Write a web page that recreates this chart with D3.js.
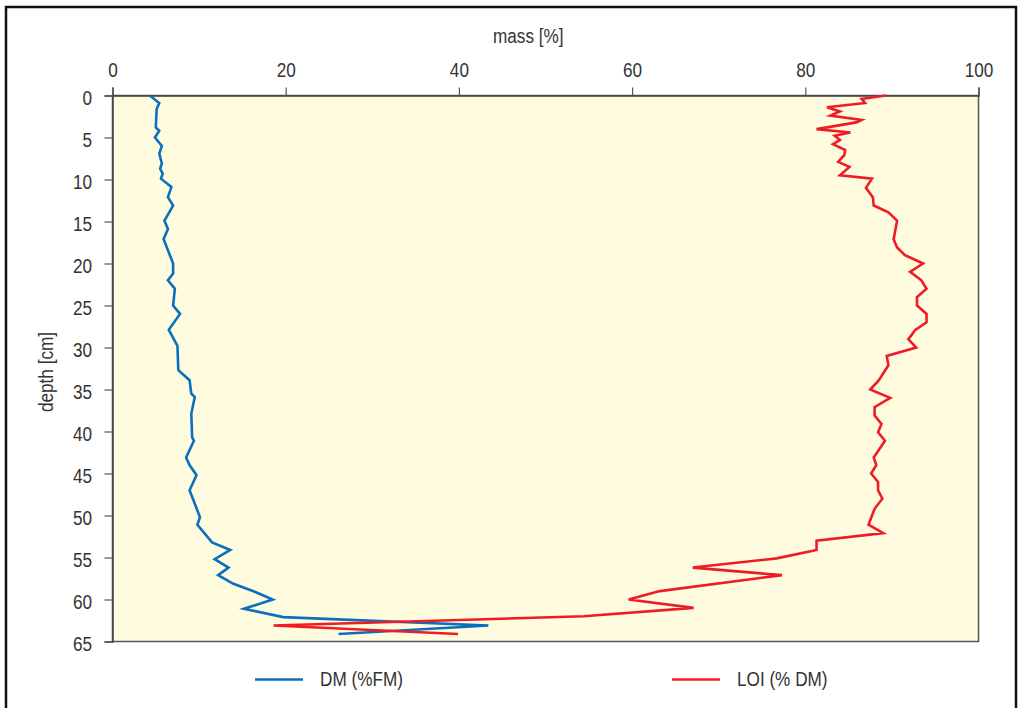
<!DOCTYPE html>
<html>
<head>
<meta charset="utf-8">
<script src="https://cdn.jsdelivr.net/npm/d3@7"></script>
<style>
  html, body { margin: 0; padding: 0; background: #fff; }
  svg { display: block; }
  text { font-family: "Liberation Sans", Arial, sans-serif; fill: #333; }
</style>
</head>
<body>
<svg id="chart" width="1019" height="708"></svg>
<script>
// Dry matter (% of fresh mass) by depth
const dmDepth = [0, 0.9, 1.6, 3.8, 4.2, 5.0, 6.0, 6.9, 8.1, 8.7, 9.3, 9.9, 10.9, 12.1, 13.1, 14.9, 15.9, 17.1,
  20.0, 21.2, 22.0, 23.0, 25.0, 26.0, 27.9, 29.8, 32.7, 33.9, 35.5, 35.9, 37.9, 40.7, 41.1, 43.1, 44.0, 45.2,
  47.0, 50.2, 51.1, 53.2, 54.1, 55.2, 56.2, 57.1, 58.1, 59.1, 60.0, 61.1, 62.1, 63.1, 64.1];
const dmValue = [4.3, 5.4, 5.1, 5.0, 5.4, 4.9, 5.7, 5.4, 5.7, 5.5, 5.8, 5.6, 6.8, 6.4, 7.0, 6.0, 6.4, 5.9,
  7.0, 7.0, 6.4, 7.2, 7.0, 7.8, 6.5, 7.5, 7.6, 8.9, 9.1, 9.5, 9.1, 9.2, 9.4, 8.5, 8.9, 9.7,
  8.9, 10.1, 9.8, 11.5, 13.6, 11.8, 13.4, 12.2, 13.9, 16.5, 18.5, 15.2, 19.7, 43.4, 26.1];

// Loss on ignition (% of dry mass) by depth
const loiDepth = [0, 0.4, 0.9, 1.4, 1.9, 2.4, 2.9, 3.2, 4.0, 4.4, 4.8, 5.3, 5.8, 6.5, 7.1, 7.9, 8.5, 9.5, 9.9,
  11.0, 12.1, 13.1, 13.9, 14.9, 17.1, 18.1, 19.0, 20.0, 21.0, 22.0, 23.0, 24.0, 25.0, 26.0, 27.0, 27.9, 29.0,
  30.0, 31.0, 32.1, 33.9, 35.0, 36.0, 37.1, 38.1, 39.1, 40.1, 41.1, 43.1, 44.0, 45.0, 46.0, 47.0, 48.0, 49.2,
  51.1, 52.1, 53.0, 54.1, 55.1, 56.2, 57.1, 59.0, 60.0, 61.0, 62.0, 63.1, 64.1];
const loiValue = [89.3, 86.5, 86.9, 82.5, 84.0, 82.9, 86.5, 85.9, 81.3, 85.2, 83.4, 84.0, 83.2, 84.6, 84.5, 83.8, 85.1, 84.0, 87.7,
  87.0, 87.8, 87.9, 89.6, 90.6, 90.2, 90.6, 91.5, 93.6, 92.1, 93.4, 94.0, 92.9, 92.9, 94.0, 94.0, 92.7, 91.9,
  92.8, 89.4, 89.6, 88.5, 87.5, 89.8, 88.0, 88.0, 88.8, 88.4, 89.2, 87.9, 88.2, 87.6, 88.4, 88.4, 88.9, 88.0,
  87.3, 89.0, 81.3, 81.3, 76.7, 67.0, 77.3, 63.2, 59.6, 67.1, 54.4, 18.6, 39.9];

const massTicks = [0, 20, 40, 60, 80, 100];
const depthTicks = [0, 5, 10, 15, 20, 25, 30, 35, 40, 45, 50, 55, 60, 65];

const series = [
  { name: "DM (%FM)", color: "#0a6fbd", depth: dmDepth, value: dmValue, legendX: 255 },
  { name: "LOI (% DM)", color: "#ee1c25", depth: loiDepth, value: loiValue, legendX: 672 }
];

const FONT_SIZE = 19.5;
const NARROW = 0.88; // horizontal squeeze for a condensed look

const svg = d3.select("#chart");
const plot = { left: 112.5, top: 95.5, right: 978.5, bottom: 641.5 };

const x = d3.scaleLinear().domain([0, 100]).range([plot.left, plot.right]);
const y = d3.scaleLinear().domain([0, 65]).range([plot.top, plot.bottom]);

// condensed text helper: positioned group with a squeezed text inside
function label(parent, tx, ty, str, anchor, rotate) {
  const g = parent.append("g")
    .attr("transform", `translate(${tx},${ty})` + (rotate ? ` rotate(${rotate})` : ""));
  g.append("text")
    .attr("transform", `scale(${NARROW},1)`)
    .attr("text-anchor", anchor)
    .attr("font-size", FONT_SIZE)
    .text(str);
  return g;
}

// outer frame
svg.append("rect")
  .attr("x", 6).attr("y", 7).attr("width", 1010).attr("height", 720)
  .attr("fill", "none").attr("stroke", "#111").attr("stroke-width", 2.5);

// plot background
svg.append("rect")
  .attr("x", plot.left).attr("y", plot.top)
  .attr("width", plot.right - plot.left).attr("height", plot.bottom - plot.top)
  .attr("fill", "#fffbdf").attr("stroke", "#555").attr("stroke-width", 1.5);

// top axis
const xAxis = svg.append("g")
  .attr("transform", `translate(0,${plot.top})`)
  .call(d3.axisTop(x).tickValues(massTicks).tickSize(8).tickFormat(d3.format("d")));
// left axis
const yAxis = svg.append("g")
  .attr("transform", `translate(${plot.left},0)`)
  .call(d3.axisLeft(y).tickValues(depthTicks).tickSize(8).tickFormat(d3.format("d")));

[xAxis, yAxis].forEach(g => {
  g.select(".domain").attr("stroke", "#444").attr("stroke-width", 1.5);
  g.selectAll(".tick line").attr("stroke", "#555").attr("stroke-width", 1.2);
  g.selectAll(".tick text")
    .attr("font-size", FONT_SIZE).attr("fill", "#333")
    .attr("dy", null);
});
xAxis.selectAll(".tick text")
  .attr("y", null).attr("x", null)
  .attr("transform", `translate(0,-18.2) scale(${NARROW},1)`);
yAxis.selectAll(".tick text")
  .attr("y", null).attr("x", null)
  .attr("transform", `translate(-20.5,8.5) scale(${NARROW},1)`);

// axis titles
label(svg, 528.3, 43.3, "mass [%]", "middle");
label(svg, 53, 372, "depth [cm]", "middle", -90);

// profile lines
const line = d3.line()
  .x(d => x(d[1]))
  .y(d => y(d[0]));

series.forEach(s => {
  const pts = s.depth.map((dp, i) => [dp, s.value[i]]);
  svg.append("path")
    .datum(pts)
    .attr("d", line)
    .attr("fill", "none")
    .attr("stroke", s.color)
    .attr("stroke-width", 2.6)
    .attr("stroke-linejoin", "miter");
});

// legend
const legend = svg.append("g");
series.forEach(s => {
  legend.append("line")
    .attr("x1", s.legendX).attr("x2", s.legendX + 48)
    .attr("y1", 679.5).attr("y2", 679.5)
    .attr("stroke", s.color).attr("stroke-width", 2.6);
  label(legend, s.legendX + 65, 686, s.name, "start");
});
</script>
</body>
</html>
